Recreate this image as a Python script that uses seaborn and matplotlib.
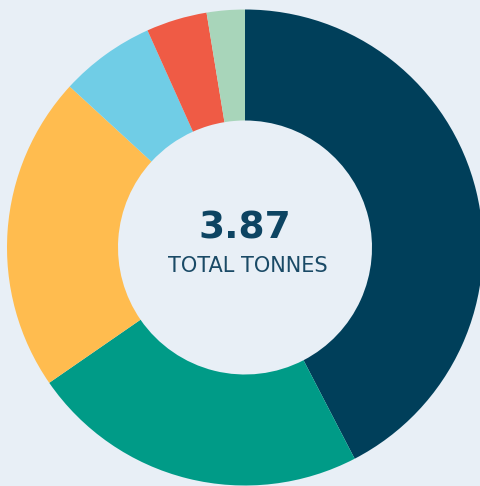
import matplotlib
matplotlib.use("Agg")
import matplotlib.pyplot as plt
import seaborn as sns

# tonnes per category, clockwise from 12 o'clock
categories = ["A", "B", "C", "D", "E", "F"]
tonnes = [1.64, 0.89, 0.83, 0.25, 0.16, 0.10]
colors = ["#003f5a", "#009b87", "#ffbc4f", "#70cde6", "#ef5b45", "#a8d5ba"]
total_label = "3.87"
sub_label = "TOTAL TONNES"

bg = "#e8eff6"
sns.set_theme(style="white", rc={"figure.facecolor": bg, "axes.facecolor": bg})
plt.rcParams["font.family"] = ["DejaVu Sans"]

fig = plt.figure(figsize=(4.8, 4.86), dpi=100)
ax = fig.add_axes([0, 0, 1, 1])

R = 238
ax.pie(tonnes, labels=None, colors=colors, startangle=90, counterclock=False,
       radius=R, center=(0, 0), wedgeprops=dict(width=R - 127, linewidth=0))

ax.text(0, 19, total_label, ha="center", va="center", fontsize=27,
        fontweight="bold", color="#0d4462")
ax.text(3, -18, sub_label, ha="center", va="center", fontsize=15,
        color="#1a4a66")

ax.set_xlim(-245, 235)
ax.set_ylim(-238.5, 247.5)
ax.set_aspect("equal")
ax.axis("off")

fig.savefig("out.png", dpi=100, facecolor=bg)
